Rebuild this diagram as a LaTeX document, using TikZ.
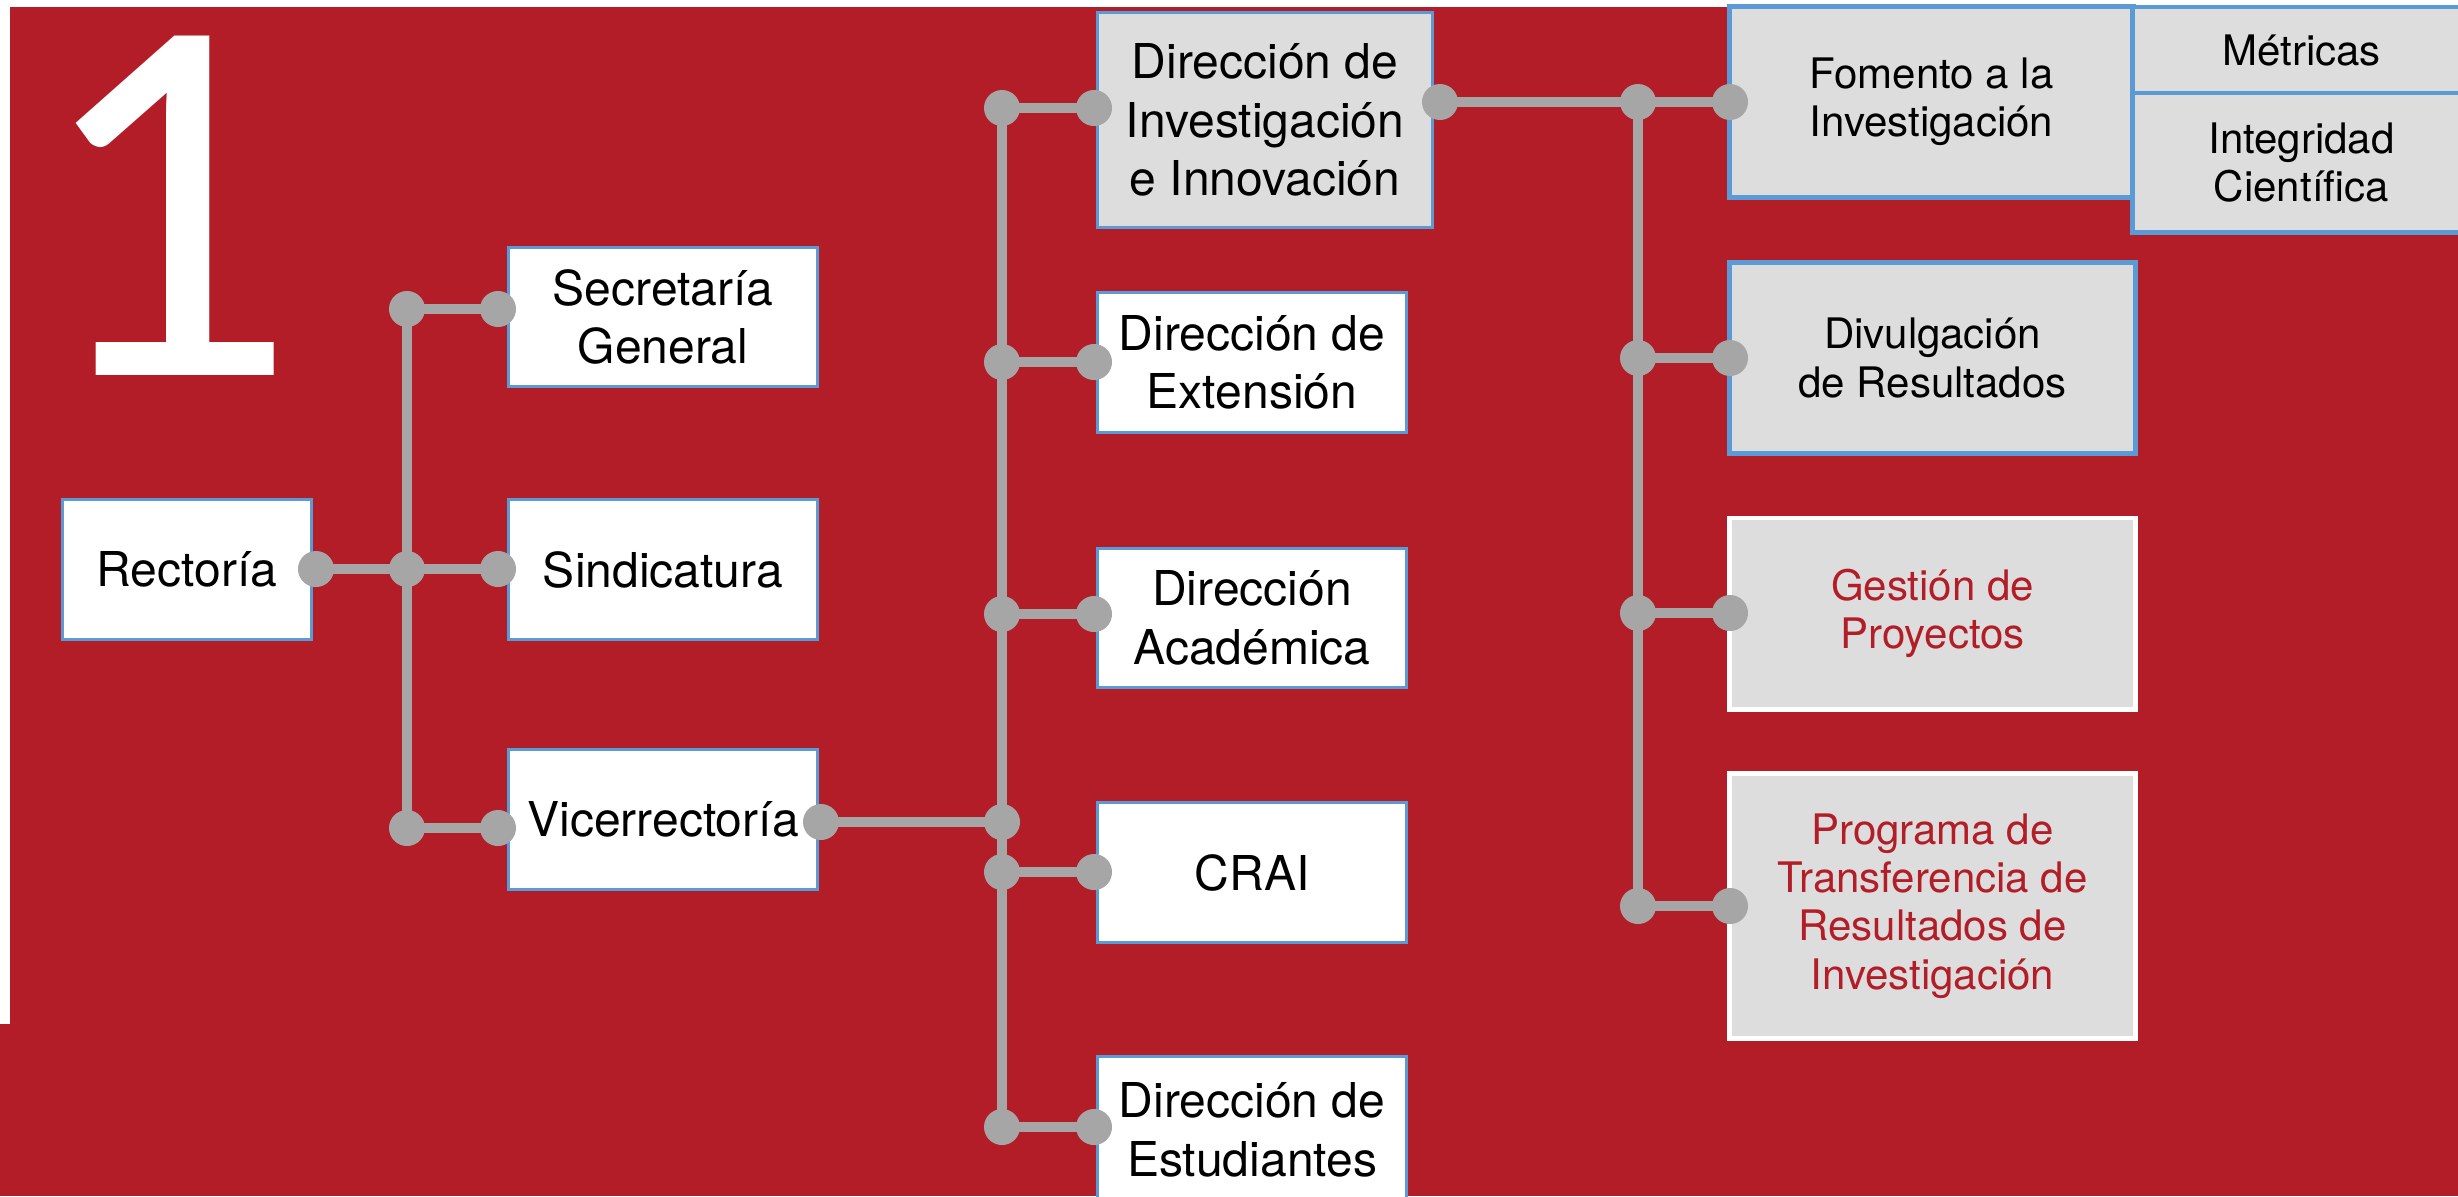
\documentclass[tikz,border=0pt]{standalone}
\usepackage{fontspec}
\setmainfont{TeX Gyre Heros}
\newfontfamily\numfont{Carlito}
\definecolor{bgred}{HTML}{B21D27}
\definecolor{conngray}{HTML}{A6A6A6}
\definecolor{boxgray}{HTML}{DDDDDD}
\definecolor{boxblue}{HTML}{5B9BD5}
\begin{document}
\begin{tikzpicture}[x=0.01cm,y=-0.01cm,
  box/.style={draw=boxblue, line width=0.85pt, fill=white, align=center, inner sep=0pt,
    font=\fontsize{13.66}{16.6}\selectfont},
  graybox/.style={box, fill=boxgray},
  sidebox/.style={draw=boxblue, line width=1.4pt, fill=boxgray, align=center, inner sep=0pt,
    font=\fontsize{11.95}{13.7}\selectfont},
  redbox/.style={sidebox, draw=white, text=bgred},
  conn/.style={draw=conngray, line width=3.1pt},
  dotfill/.style={fill=conngray}
]
\useasboundingbox (0,0) rectangle (2458,1196);
\clip (0,0) rectangle (2458,1196);
% background
\fill[white] (0,0) rectangle (2458,1196);
\fill[bgred] (10,7) rectangle (2458,1196);
\fill[bgred] (0,1024) rectangle (10,1196);

% big number
\node[anchor=base west, inner sep=0pt, text=white, text height=97pt, text depth=0pt,
  font=\numfont\fontsize{150}{150}\selectfont] (num) at (30,375) {1};

% column 1
\node[box, minimum width=2.48cm, minimum height=1.39cm] (rect) at (187,569.5) {Rectoría};
\node[box, minimum width=3.08cm, minimum height=1.38cm] (sec) at (663,317) {Secretaría\\General};
\node[box, minimum width=3.08cm, minimum height=1.39cm] (sind) at (663,569.5) {Sindicatura};
\node[box, minimum width=3.08cm, minimum height=1.39cm] (vice) at (663,819.5) {Vicerrectoría};

% column 2
\node[graybox, minimum width=3.34cm, minimum height=2.14cm] (dii) at (1265,120) {Dirección de\\Investigación\\e Innovación};
\node[box, minimum width=3.08cm, minimum height=1.39cm] (ext) at (1252,362.5) {Dirección de\\Extensión};
\node[box, minimum width=3.08cm, minimum height=1.38cm] (acad) at (1252,618) {Dirección\\Académica};
\node[box, minimum width=3.08cm, minimum height=1.39cm] (crai) at (1252,872.5) {CRAI};
\node[box, minimum width=3.08cm, minimum height=1.46cm] (est) at (1252,1130) {Dirección de\\Estudiantes};

% column 3
\node[sidebox, minimum width=4.03cm, minimum height=1.90cm] (fom) at (1931.5,102) {Fomento a la\\Investigación};
\node[sidebox, minimum width=3.37cm, minimum height=0.86cm] (met) at (2301.5,50) {Métricas};
\node[sidebox, minimum width=3.37cm, minimum height=1.39cm] (int) at (2301.5,162.5) {Integridad\\Científica};
\node[sidebox, minimum width=4.05cm, minimum height=1.90cm] (div) at (1932.5,358) {Divulgación\\de Resultados};
\node[redbox, minimum width=4.05cm, minimum height=1.91cm] (gest) at (1932.5,613.5) {Gestión de\\Proyectos};
\node[redbox, minimum width=4.05cm, minimum height=2.64cm] (prog) at (1932.5,906) {Programa de\\Transferencia de\\Resultados de\\Investigación};

% connector points
\coordinate (rR) at (316,569);
\coordinate (j1a) at (407,309);
\coordinate (j1b) at (407,569);
\coordinate (j1c) at (407,828);
\coordinate (d1a) at (498,309);
\coordinate (d1b) at (498,569);
\coordinate (d1c) at (498,828);
\coordinate (vR) at (821,822);
\coordinate (j2a) at (1002,108);
\coordinate (j2b) at (1002,362);
\coordinate (j2c) at (1002,614);
\coordinate (j2v) at (1002,822);
\coordinate (j2d) at (1002,872);
\coordinate (j2e) at (1002,1127);
\coordinate (d2a) at (1094,108);
\coordinate (d2b) at (1094,362);
\coordinate (d2c) at (1094,614);
\coordinate (d2d) at (1094,872);
\coordinate (d2e) at (1094,1127);
\coordinate (dR) at (1440,102);
\coordinate (j3a) at (1638,102);
\coordinate (j3b) at (1638,358);
\coordinate (j3c) at (1638,613);
\coordinate (j3d) at (1638,906);
\coordinate (d3a) at (1730,102);
\coordinate (d3b) at (1730,358);
\coordinate (d3c) at (1730,613);
\coordinate (d3d) at (1730,906);

% connectors
\draw[conn] (rR) -- (j1b) -- (d1b);
\draw[conn] (j1a) -- (j1c);
\draw[conn] (j1a) -- (d1a);
\draw[conn] (j1c) -- (d1c);
\draw[conn] (vR) -- (j2v);
\draw[conn] (j2a) -- (j2e);
\draw[conn] (j2a) -- (d2a);
\draw[conn] (j2b) -- (d2b);
\draw[conn] (j2c) -- (d2c);
\draw[conn] (j2d) -- (d2d);
\draw[conn] (j2e) -- (d2e);
\draw[conn] (dR) -- (j3a) -- (d3a);
\draw[conn] (j3a) -- (j3d);
\draw[conn] (j3b) -- (d3b);
\draw[conn] (j3c) -- (d3c);
\draw[conn] (j3d) -- (d3d);

% dots
\foreach \p in {rR,j1a,j1b,j1c,d1a,d1b,d1c,vR,j2a,j2b,j2c,j2v,j2d,j2e,d2a,d2b,d2c,d2d,d2e,dR,j3a,j3b,j3c,j3d,d3a,d3b,d3c,d3d}
  \fill[dotfill] (\p) circle[radius=0.18cm];
\end{tikzpicture}
\end{document}
